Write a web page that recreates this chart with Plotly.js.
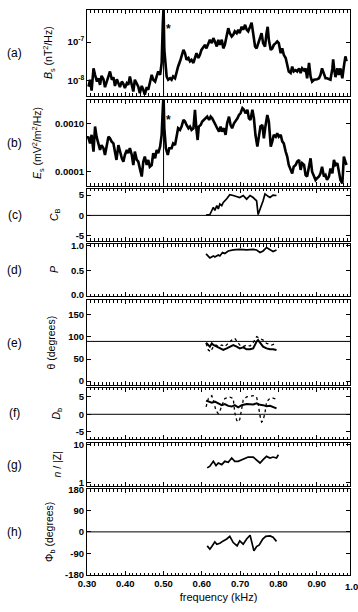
<!DOCTYPE html>
<html><head><meta charset="utf-8">
<script src="https://cdn.plot.ly/plotly-3.0.1.min.js"></script>
<style>html,body{margin:0;padding:0;background:#fff;}#chart{width:358px;height:612px;}</style>
</head><body><div id="chart"></div>
<script>
// (a) magnetic spectral density B_s (nT^2/Hz)
const aFreq = [0.304,0.308,0.312,0.317,0.321,0.326,0.330,0.334,0.338,0.343,0.347,0.352,0.356,0.360,0.365,0.369,0.373,0.378,0.382,0.386,0.391,0.395,0.399,0.404,0.408,0.412,0.417,0.421,0.425,0.430,0.434,0.438,0.443,0.447,0.451,0.456,0.460,0.465,0.469,0.473,0.478,0.482,0.486,0.491,0.495,0.498,0.500,0.502,0.505,0.508,
0.512,0.517,0.521,0.525,0.530,0.534,0.538,0.543,0.547,0.552,0.556,0.560,0.565,0.569,0.573,0.578,0.582,0.586,0.591,0.595,0.599,0.604,0.608,0.612,0.617,0.621,0.626,0.630,0.634,0.639,0.643,0.647,0.652,0.656,0.660,0.665,0.669,0.673,0.678,0.682,0.686,0.691,0.695,0.699,0.704,0.708,0.713,0.717,0.721,0.726,0.730,
0.734,0.739,0.743,0.747,0.752,0.756,0.760,0.765,0.769,0.772,0.775,0.780,0.784,0.788,0.793,0.797,0.801,0.806,0.810,0.814,0.819,0.823,0.827,0.832,0.836,0.840,0.845,0.849,0.854,0.858,0.862,0.867,0.871,0.875,0.880,0.884,0.888,0.893,0.897,0.901,0.906,0.910,0.914,0.919,0.923,0.927,0.932,0.936,0.941,0.943,0.946,0.949,0.954,0.958,0.962,0.967,0.971,0.975,0.978];
const aPow = [7.1e-9,1.07e-8,5.6e-9,2.1e-8,1.43e-8,9.6e-9,1.17e-8,7.9e-9,1.35e-8,1.1e-8,6.9e-9,1.07e-8,1.3e-8,1.75e-8,1.07e-8,1.25e-8,7.4e-9,1.1e-8,9.1e-9,6.9e-9,9.6e-9,8.4e-9,6.5e-9,8.7e-9,7.9e-9,1.3e-8,7.9e-9,5.3e-9,1.07e-8,8.4e-9,7.1e-9,4.8e-9,7.4e-9,5.9e-9,4.4e-9,6.9e-9,5.9e-9,9.6e-9,1.43e-8,1.07e-8,9.6e-9,1.3e-8,1.75e-8,1.43e-8,2.9e-8,3.0e-7,8.0e-7,6.3e-8,2.35e-8,1.3e-8,
1.07e-8,1.17e-8,1.07e-8,1.3e-8,1.17e-8,1.75e-8,2.35e-8,3.2e-8,4.7e-8,6.3e-8,5.2e-8,3.5e-8,3.9e-8,3.2e-8,3.5e-8,2.9e-8,3.9e-8,5.2e-8,3.9e-8,4.7e-8,6.3e-8,7.7e-8,8.5e-8,6.9e-8,9.4e-8,1.15e-7,9.4e-8,1.27e-7,1.04e-7,7.7e-8,1.15e-7,8.5e-8,1.15e-7,6.9e-8,8.5e-8,1.55e-7,2.3e-7,1.7e-7,1.4e-7,1.55e-7,1.9e-7,1.7e-7,2.1e-7,1.7e-7,2.5e-7,2.1e-7,2.8e-7,2.1e-7,1.9e-7,2.5e-7,3.2e-7,
1.7e-7,7.7e-8,6.9e-8,9.4e-8,1.4e-7,1.7e-7,9.4e-8,7.7e-8,1.7e-7,2.5e-7,1.15e-7,6.3e-8,6.9e-8,8.5e-8,9.4e-8,1.04e-7,9.4e-8,5.2e-8,6.9e-8,4.7e-8,3.9e-8,2.6e-8,1.75e-8,1.6e-8,2.35e-8,1.75e-8,1.9e-8,1.75e-8,2.1e-8,1.6e-8,2.1e-8,1.85e-8,2.1e-8,1.17e-8,2.9e-8,1.3e-8,9.6e-9,1.07e-8,1.07e-8,1.1e-8,1.17e-8,1.43e-8,2.1e-8,1.6e-8,1.17e-8,1.17e-8,1.1e-8,1.07e-8,2.1e-8,3.6e-8,1.9e-8,1.25e-8,2.1e-8,1.43e-8,2.1e-8,1.17e-8,2.35e-8,4.3e-8,3.2e-8];

// (b) electric spectral density E_s (mV^2/m^2/Hz)
const bFreq = [0.300,0.303,0.308,0.312,0.317,0.321,0.325,0.330,0.334,0.338,0.343,0.347,0.351,0.356,0.360,0.364,0.369,0.373,0.377,0.382,0.386,0.391,0.395,0.399,0.404,0.408,0.412,0.417,0.421,0.425,0.430,0.434,0.438,0.443,0.447,0.451,0.456,0.460,0.464,0.469,0.473,0.478,0.482,0.486,0.491,0.495,0.498,0.500,0.502,0.506,0.511,0.515,
0.521,0.525,0.530,0.534,0.538,0.543,0.547,0.552,0.556,0.560,0.565,0.569,0.573,0.578,0.582,0.586,0.589,0.592,0.597,0.601,0.605,0.610,0.614,0.619,0.623,0.627,0.632,0.636,0.640,0.645,0.649,0.653,0.658,0.662,0.666,0.671,0.675,0.679,0.684,0.688,0.693,0.697,0.701,0.706,0.710,0.714,0.719,0.723,0.727,0.732,0.736,0.740,0.745,0.749,0.753,0.758,0.762,0.766,0.771,0.775,0.780,0.784,0.788,0.793,0.797,0.801,0.806,0.810,0.814,0.819,0.823,0.827,0.832,0.836,0.840,0.845,0.849,0.854,0.858,0.862,0.867,0.871,0.875,0.880,0.884,0.888,0.893,0.897,0.901,0.906,0.910,0.914,0.919,0.923,0.927,0.932,0.936,0.941,0.945,0.949,0.954,0.958,0.962,0.967,0.971,0.975,0.978];
const bPow = [5.0e-4,5.4e-4,3.9e-4,5.9e-4,2.63e-4,8.8e-4,5.4e-4,3.6e-4,2.85e-4,3.6e-4,3.1e-4,2.24e-4,3.35e-4,5.4e-4,5.0e-4,4.3e-4,3.9e-4,2.63e-4,1.76e-4,3.6e-4,2.63e-4,1.9e-4,1.62e-4,2.24e-4,2.85e-4,2.43e-4,3.1e-4,2.24e-4,1.38e-4,2.63e-4,1.76e-4,1.62e-4,1.17e-4,7.9e-5,1.62e-4,2.07e-4,1.38e-4,1.76e-4,1.27e-4,1.38e-4,2.43e-4,1.9e-4,2.85e-4,2.43e-4,3.35e-4,5.9e-4,2.13e-3,4.0e-3,8.1e-4,3.1e-4,2.24e-4,3.1e-4,
3.1e-4,3.9e-4,3.6e-4,5.9e-4,8.1e-4,7.5e-4,8.8e-4,1.21e-3,1.12e-3,9.5e-4,8.1e-4,8.8e-4,7.5e-4,8.1e-4,1.97e-3,7.5e-4,4.6e-4,8.8e-4,9.5e-4,1.12e-3,1.21e-3,1.31e-3,1.42e-3,1.21e-3,1.42e-3,1.31e-3,1.12e-3,9.5e-4,8.1e-4,6.9e-4,8.8e-4,6.9e-4,8.1e-4,5.9e-4,1.03e-3,1.42e-3,9.5e-4,8.1e-4,1.03e-3,1.12e-3,1.31e-3,1.54e-3,1.67e-3,2.13e-3,1.97e-3,1.67e-3,1.97e-3,1.31e-3,1.21e-3,1.97e-3,1.31e-3,5.9e-4,3.35e-4,5.4e-4,8.8e-4,9.5e-4,5.0e-4,8.8e-4,1.54e-3,1.12e-3,3.35e-4,4.3e-4,5.9e-4,5.4e-4,6.4e-4,5.4e-4,5.9e-4,4.3e-4,3.9e-4,2.63e-4,2.07e-4,1.38e-4,1.09e-4,9.2e-5,1.27e-4,1.38e-4,1.62e-4,1.76e-4,1.09e-4,1.5e-4,1.38e-4,8.5e-5,7.9e-5,1.38e-4,1.9e-4,1.0e-4,7.9e-5,6.7e-5,7.3e-5,7.9e-5,9.2e-5,1.27e-4,7.9e-5,8.5e-5,6.7e-5,7.9e-5,1.17e-4,9.2e-5,1.76e-4,1.38e-4,1.5e-4,1.0e-4,6.7e-5,5.7e-5,2.07e-4,1.62e-4,1.38e-4];

// (c) C_B
const cFreq = [0.611,0.621,0.626,0.630,0.634,0.639,0.643,0.647,0.652,0.656,0.665,0.673,0.682,0.691,0.699,0.708,0.717,0.726,0.734,0.743,0.747,0.760,0.765,0.773,0.778,0.786,0.795];
const cVal  = [0.1,0.2,1.2,2.0,1.2,2.4,1.6,2.8,2.4,3.2,4.1,5.1,4.9,4.6,4.4,4.9,4.0,4.9,4.4,3.6,0.2,3.6,5.3,4.7,4.4,5.0,4.9];

// (d) P
const dFreq = [0.611,0.617,0.621,0.630,0.634,0.643,0.647,0.654,0.660,0.669,0.682,0.699,0.717,0.734,0.743,0.752,0.760,0.769,0.778,0.786,0.795];
const dVal  = [0.83,0.79,0.75,0.79,0.77,0.81,0.79,0.86,0.84,0.89,0.91,0.92,0.91,0.92,0.91,0.86,0.89,0.96,0.91,0.88,0.91];

// (e) theta (degrees): solid and dotted
const eFreq = [0.611,0.617,0.621,0.626,0.630,0.639,0.647,0.656,0.665,0.673,0.682,0.691,0.699,0.708,0.717,0.726,0.734,0.743,0.747,0.752,0.760,0.769,0.778,0.786,0.795];
const eSolid = [87,81.8,78,85.6,81.8,78,74.2,70.5,74.2,78,81.8,78,74.2,76.5,72,72,74.2,89.4,93,87,78,74.2,72,72,70.5];
const eDotFreq = [0.611,0.617,0.623,0.630,0.637,0.643,0.652,0.660,0.669,0.678,0.686,0.692,0.699,0.708,0.717,0.726,0.734,0.743,0.752,0.760,0.769,0.782,0.795];
const eDotted = [85.6,70.5,66.7,78,81.8,78,81.8,78,85.6,93,97,89.4,81.8,78,81.8,79.5,87,100.7,97,93,85.6,81.8,85.6];

// (f) D_b: solid and dotted
const fFreq = [0.611,0.617,0.626,0.634,0.643,0.652,0.660,0.669,0.678,0.686,0.695,0.704,0.717,0.734,0.743,0.752,0.760,0.769,0.778,0.786,0.795];
const fSolid = [3.9,3.6,3.3,3.6,3.0,2.6,2.9,2.4,2.2,2.6,2.0,2.6,2.9,2.8,3.1,2.7,2.6,2.3,2.4,2.1,1.7];
const fDotFreq = [0.611,0.617,0.626,0.630,0.637,0.643,0.647,0.652,0.660,0.673,0.682,0.686,0.691,0.695,0.699,0.704,0.708,0.717,0.734,0.743,0.747,0.752,0.756,0.760,0.765,0.769,0.778,0.786,0.795];
const fDotted = [2.1,4.5,5.3,4.0,1.0,0.2,0.8,2.5,4.5,4.9,4.5,0.5,-1.7,-2.2,-1.5,1.0,4.0,5.0,5.3,4.9,3.0,-0.5,-2.2,-1.8,0.5,3.5,4.6,4.6,4.3];

// (g) n/|Z|
const gFreq = [0.614,0.621,0.630,0.637,0.643,0.652,0.660,0.669,0.678,0.686,0.695,0.704,0.712,0.721,0.734,0.743,0.752,0.760,0.769,0.778,0.786,0.795,0.800];
const gVal  = [2.46,2.72,3.67,2.83,3.32,3.0,3.67,3.46,4.49,3.67,3.67,4.06,4.49,4.77,4.77,4.06,3.32,4.06,4.96,4.49,4.77,4.49,5.48];

// (h) Phi_b (degrees)
const hFreq = [0.614,0.621,0.626,0.634,0.639,0.647,0.656,0.665,0.673,0.682,0.692,0.699,0.708,0.717,0.726,0.730,0.736,0.743,0.750,0.759,0.767,0.778,0.786,0.795];
const hVal  = [-59,-73,-62,-42,-52,-48,-38,-30,-19,-45,-59,-38,-52,-30,-14,-45,-80,-62,-55,-30,-19,-17,-22,-40];

const xTickVals = [0.30,0.40,0.50,0.60,0.70,0.80,0.90];
const xTickText = ['0.30','0.40','0.50','0.60','0.70','0.80','0.90'];
const panelLabels = ['(a)','(b)','(c)','(d)','(e)','(f)','(g)','(h)'];
const yTitles = ['<i>B</i><sub>s</sub> (nT<sup>2</sup>/Hz)', '<i>E</i><sub>s</sub> (mV<sup>2</sup>/m<sup>2</sup>/Hz)', '<i>C</i><sub>B</sub>', '<i>P</i>', '\u03b8 (degrees)', '<i>D</i><sub>b</sub>', '<i>n</i> / |Z|', '\u03a6<sub>b</sub> (degrees)'];
const markerFreq = 0.50;

const FONT = 'Liberation Sans, Arial, sans-serif';
const tickFont = {family: FONT, size: 9.5, color: '#000', weight: 'bold'};
const titleFont = {family: FONT, size: 10.5, color: '#000'};

// layout geometry (plot area 87..350 px wide, 10..575 px tall)
const domains = [[0.8478,1.0],[0.6885,0.8407],[0.5912,0.6832],[0.4938,0.5858],[0.3363,0.4867],[0.2407,0.3310],[0.1575,0.2336],[0.0,0.1522]];
const titleX = [49, 38, 55, 54, 51, 57, 57, 50];   // px centre of each y title
const plotLeft = 87, plotWidth = 263;

const layout = {
  width: 358, height: 612,
  margin: {l: 87, r: 8, t: 10, b: 37},
  paper_bgcolor: '#fff', plot_bgcolor: '#fff',
  showlegend: false,
  font: {family: FONT, color: '#000'},
  shapes: [], annotations: []
};

function xAxis(i) {
  const ax = {
    range: [0.30, 0.987], anchor: 'y' + (i === 1 ? '' : i),
    showline: true, linecolor: '#000', linewidth: 1, mirror: 'allticks',
    ticks: 'inside', ticklen: 4, tickwidth: 1, tickcolor: '#000',
    tickvals: xTickVals, ticktext: xTickText, showgrid: false, zeroline: false,
    minor: {ticks: 'inside', ticklen: 2.5, tickwidth: 1, dtick: 0.01, tick0: 0.30, tickcolor: '#000', showgrid: false},
    showticklabels: i === 8, tickfont: tickFont, fixedrange: true
  };
  if (i !== 1) ax.matches = 'x';
  if (i === 8) ax.title = {text: 'frequency (kHz)', font: {family: FONT, size: 11, color: '#000'}, standoff: 4};
  return ax;
}

const yDefs = [
  {type: 'log', range: [-8.39, -6.17], tickvals: [1e-8, 1e-7], ticktext: ['10<sup>-8</sup>', '10<sup>-7</sup>']},
  {type: 'log', range: [-4.30, -2.50], tickvals: [1e-4, 1e-3], ticktext: ['0.0001', '0.0010']},
  {range: [-6.3, 6.5], tickvals: [-5, 0, 5], ticktext: ['-5', '0', '5']},
  {range: [-0.02, 1.03], tickvals: [0, 0.5, 1.0], ticktext: ['0.0', '0.5', '1.0']},
  {range: [-9, 184], tickvals: [0, 50, 100, 150], ticktext: ['0', '50', '100', '150']},
  {range: [-7.05, 7.5], tickvals: [-5, 0, 5], ticktext: ['-5', '0', '5']},
  {type: 'log', range: [-0.09, 1.05], tickvals: [1, 10], ticktext: ['1', '10']},
  {range: [-182, 181], tickvals: [-180, -90, 0, 90, 180], ticktext: ['-180', '-90', '0', '90', '180']}
];

for (let i = 1; i <= 8; i++) {
  const s = i === 1 ? '' : String(i);
  layout['xaxis' + s] = xAxis(i);
  const d = yDefs[i - 1];
  layout['yaxis' + s] = {
    domain: domains[i - 1], anchor: 'x' + s, type: d.type || 'linear', range: d.range,
    tickvals: d.tickvals, ticktext: d.ticktext,
    showline: true, linecolor: '#000', linewidth: 1, mirror: 'allticks',
    ticks: 'inside', ticklen: 4, tickwidth: 1, tickcolor: '#000',
    showgrid: false, zeroline: false, tickfont: tickFont, fixedrange: true
  };
  const mid = (domains[i - 1][0] + domains[i - 1][1]) / 2;
  layout.annotations.push({text: panelLabels[i - 1], xref: 'paper', yref: 'paper', x: -0.274, y: mid, xanchor: 'center', yanchor: 'middle', showarrow: false, font: {family: FONT, size: 12, color: '#000'}});
  layout.annotations.push({text: yTitles[i - 1], textangle: -90, xref: 'paper', yref: 'paper', x: (titleX[i - 1] - plotLeft) / plotWidth, y: mid, xanchor: 'center', yanchor: 'middle', showarrow: false, font: titleFont});
}

// reference lines
[3, 6, 8].forEach(i => layout.shapes.push({type: 'line', xref: 'x' + i + ' domain', x0: 0, x1: 1, yref: 'y' + i, y0: 0, y1: 0, line: {color: '#000', width: 1}}));
layout.shapes.push({type: 'line', xref: 'x5 domain', x0: 0, x1: 1, yref: 'y5', y0: 90, y1: 90, line: {color: '#000', width: 1}});
[['x', 'y'], ['x2', 'y2']].forEach(([xr, yr]) => layout.shapes.push({type: 'line', xref: xr, x0: markerFreq, x1: markerFreq, yref: yr + ' domain', y0: 0, y1: 1, line: {color: '#000', width: 1}}));

// asterisks and clipped 1.00 tick label
layout.annotations.push({text: '*', xref: 'x', yref: 'y domain', x: 0.514, y: 0.88, showarrow: false, font: {family: FONT, size: 12, color: '#000', weight: 'bold'}});
layout.annotations.push({text: '*', xref: 'x2', yref: 'y2 domain', x: 0.514, y: 0.87, showarrow: false, font: {family: FONT, size: 12, color: '#000', weight: 'bold'}});
layout.annotations.push({text: '1.00', xref: 'paper', yref: 'paper', x: (1.00 - 0.30) / (0.987 - 0.30), y: -0.0207, xanchor: 'center', yanchor: 'middle', showarrow: false, font: tickFont});

const line = (w, dash) => ({color: '#000', width: w, dash: dash || 'solid'});
const data = [
  {x: aFreq, y: aPow, xaxis: 'x', yaxis: 'y', mode: 'lines', line: line(2.6)},
  {x: bFreq, y: bPow, xaxis: 'x2', yaxis: 'y2', mode: 'lines', line: line(2.6)},
  {x: cFreq, y: cVal, xaxis: 'x3', yaxis: 'y3', mode: 'lines', line: line(1.7)},
  {x: dFreq, y: dVal, xaxis: 'x4', yaxis: 'y4', mode: 'lines', line: line(1.7)},
  {x: eFreq, y: eSolid, xaxis: 'x5', yaxis: 'y5', mode: 'lines', line: line(2)},
  {x: eDotFreq, y: eDotted, xaxis: 'x5', yaxis: 'y5', mode: 'lines', line: line(1.3, 'dot')},
  {x: fFreq, y: fSolid, xaxis: 'x6', yaxis: 'y6', mode: 'lines', line: line(2)},
  {x: fDotFreq, y: fDotted, xaxis: 'x6', yaxis: 'y6', mode: 'lines', line: line(1.3, 'dot')},
  {x: gFreq, y: gVal, xaxis: 'x7', yaxis: 'y7', mode: 'lines', line: line(1.7)},
  {x: hFreq, y: hVal, xaxis: 'x8', yaxis: 'y8', mode: 'lines', line: line(1.7)}
];

Plotly.newPlot('chart', data, layout, {staticPlot: true, displayModeBar: false});
</script></body></html>
